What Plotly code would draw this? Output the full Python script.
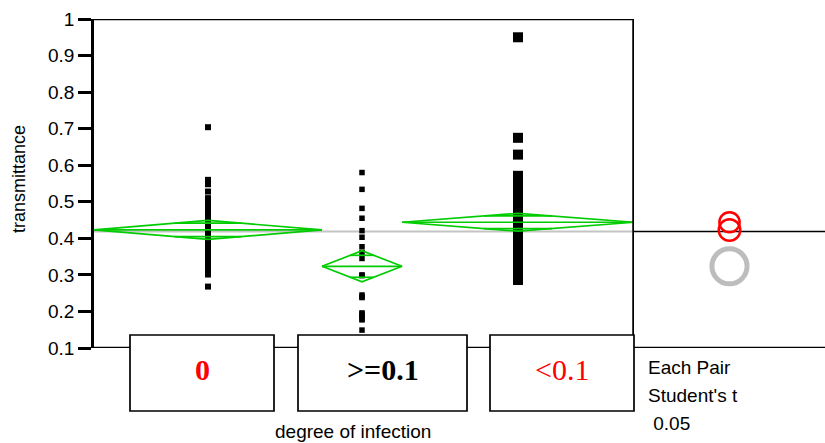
import math
import plotly.graph_objects as go

# ---- data -------------------------------------------------------------
categories = ["0", ">=0.1", "<0.1"]

transmittance_0 = [
    0.704, 0.560, 0.548, 0.528, 0.510, 0.495, 0.482, 0.470,
    0.460, 0.456, 0.452, 0.449, 0.446, 0.443, 0.440, 0.438, 0.436, 0.434,
    0.432, 0.430, 0.428, 0.426, 0.424, 0.422, 0.420, 0.418, 0.416, 0.414,
    0.412, 0.410, 0.408, 0.406, 0.404, 0.402, 0.400, 0.398, 0.396, 0.394,
    0.392, 0.390, 0.387, 0.384, 0.381, 0.378, 0.374, 0.370, 0.365, 0.360,
    0.354, 0.347, 0.340, 0.332, 0.324, 0.316, 0.308, 0.301, 0.268,
]
transmittance_ge01 = [
    0.580, 0.534, 0.482, 0.455, 0.421, 0.403, 0.377, 0.361, 0.345, 0.300,
    0.298, 0.245, 0.240, 0.238, 0.196, 0.193, 0.188, 0.180, 0.177, 0.149,
]
transmittance_lt01 = [
    0.950, 0.675, 0.629, 0.571, 0.560, 0.550, 0.540, 0.530, 0.520, 0.512,
    0.505, 0.498, 0.492, 0.486, 0.480, 0.475, 0.470, 0.466, 0.462, 0.458,
    0.454, 0.450, 0.447, 0.444, 0.441, 0.438, 0.435, 0.432, 0.429, 0.426,
    0.423, 0.420, 0.417, 0.414, 0.411, 0.408, 0.405, 0.401, 0.397, 0.393,
    0.389, 0.384, 0.379, 0.374, 0.368, 0.362, 0.355, 0.348, 0.341, 0.334,
    0.327, 0.320, 0.313, 0.306, 0.300, 0.295, 0.290, 0.286,
]
group_values = [transmittance_0, transmittance_ge01, transmittance_lt01]

# group means and 95% confidence half-widths (means diamonds)
group_means = [0.423, 0.3235, 0.444]
group_ci_half = [0.026, 0.0425, 0.0245]
grand_mean = 0.419

y_tick_vals = [0.1, 0.2, 0.3, 0.4, 0.5, 0.6, 0.7, 0.8, 0.9, 1.0]
y_tick_text = ["0.1", "0.2", "0.3", "0.4", "0.5", "0.6", "0.7", "0.8", "0.9", "1"]
test_lines = ["Each Pair", "Student's t", " 0.05"]

# ---- styles -----------------------------------------------------------
W, H = 825, 443
L, T = 94, 19
PB = 348            # bottom of plotting area (px)
MAIN_R = 634        # right edge of main frame (px)
PW, PH = W - L, PB - T
Y0, Y1 = 0.1, 1.0
PX_PER_UNIT = PH / (Y1 - Y0)

GREEN = "#00cc00"
marker_sizes = [6, 5.5, 10]
label_colors = ["#ff0000", "#000000", "#ff0000"]
label_bold = [True, True, False]
circle_colors = ["#ff0000", "#bdbdbd", "#ff0000"]
circle_widths = [2.5, 5, 2.5]
box_px = [(130, 274), (298, 467), (490, 634)]
BOX_TOP, BOX_BOT = 335, 411
SANS = "Liberation Sans, Arial, sans-serif"
SERIF = "Liberation Serif, Times New Roman, serif"


def px_x(px):
    return (px - L) / PW


def px_y(py):
    return (PB - py) / PH


counts = [len(v) for v in group_values]
n_total = sum(counts)
starts = [sum(counts[:i]) for i in range(len(counts))]
centers = [s + n / 2 for s, n in zip(starts, counts)]

fig = go.Figure()

# grand mean reference line
fig.add_trace(go.Scatter(x=[0, n_total], y=[grand_mean, grand_mean], mode="lines",
                         line=dict(color="#c4c4c4", width=2), hoverinfo="skip",
                         showlegend=False))

# raw observations
for i, vals in enumerate(group_values):
    fig.add_trace(go.Scatter(
        x=[centers[i]] * len(vals), y=vals, mode="markers",
        marker=dict(symbol="square", size=marker_sizes[i], color="black",
                    line=dict(width=0)),
        name=categories[i], showlegend=False))

# means diamonds with overlap marks
k = 1 - 1 / math.sqrt(2)
for i in range(len(categories)):
    lft, rgt, c = starts[i], starts[i] + counts[i], centers[i]
    m, h = group_means[i], group_ci_half[i]
    fig.add_trace(go.Scatter(x=[lft, c, rgt, c, lft], y=[m, m + h, m, m - h, m],
                             mode="lines", line=dict(color=GREEN, width=1.7),
                             hoverinfo="skip", showlegend=False))
    fig.add_trace(go.Scatter(x=[lft, rgt], y=[m, m], mode="lines",
                             line=dict(color=GREEN, width=1.7),
                             hoverinfo="skip", showlegend=False))
    d = k * counts[i] / 2
    for sgn in (1, -1):
        om = m + sgn * h / math.sqrt(2)
        fig.add_trace(go.Scatter(x=[c - d, c + d], y=[om, om], mode="lines",
                                 line=dict(color=GREEN, width=1.7),
                                 hoverinfo="skip", showlegend=False))

# comparison-circle panel reference line
fig.add_trace(go.Scatter(x=[0, 1], y=[grand_mean, grand_mean], xaxis="x2",
                         mode="lines", line=dict(color="black", width=1.5),
                         hoverinfo="skip", showlegend=False))

shapes = []
# frame lines
shapes.append(dict(type="line", xref="x", yref="y", x0=0, x1=n_total, y0=Y1, y1=Y1,
                   line=dict(color="black", width=2.5)))
shapes.append(dict(type="line", xref="paper", yref="y", x0=0, x1=1, y0=Y0, y1=Y0,
                   line=dict(color="black", width=2.5)))
shapes.append(dict(type="line", xref="x", yref="y", x0=n_total, x1=n_total,
                   y0=Y0, y1=Y1, line=dict(color="black", width=3.5)))
# category label boxes
for (bx0, bx1) in box_px:
    shapes.append(dict(type="rect", xref="paper", yref="paper",
                       x0=px_x(bx0), x1=px_x(bx1), y0=px_y(BOX_BOT), y1=px_y(BOX_TOP),
                       fillcolor="white", line=dict(color="black", width=1.7)))
# comparison circles (grey first, red on top)
order = sorted(range(len(categories)), key=lambda j: circle_colors[j] != "#bdbdbd")
for j in order:
    r = group_ci_half[j] * PX_PER_UNIT * 1.13
    shapes.append(dict(type="circle", xref="x2", yref="y",
                       xsizemode="pixel", ysizemode="pixel",
                       xanchor=0.5, yanchor=group_means[j],
                       x0=-r, x1=r, y0=-r, y1=r,
                       line=dict(color=circle_colors[j], width=circle_widths[j])))

annotations = []
for i, name in enumerate(categories):
    txt = name.replace("<", "&lt;").replace(">", "&gt;")
    if label_bold[i]:
        txt = "<b>" + txt + "</b>"
    bx0, bx1 = box_px[i]
    annotations.append(dict(x=px_x((bx0 + bx1) / 2), y=px_y(369), xref="paper",
                            yref="paper", text=txt, showarrow=False,
                            xanchor="center", yanchor="middle",
                            font=dict(family=SERIF, size=30, color=label_colors[i])))

annotations.append(dict(x=px_x(19), y=px_y(179), xref="paper", yref="paper",
                        text="transmittance", textangle=-90, showarrow=False,
                        xanchor="center", yanchor="middle",
                        font=dict(family=SANS, size=18, color="black")))
annotations.append(dict(x=px_x(353), y=px_y(431), xref="paper", yref="paper",
                        text="degree of infection", showarrow=False,
                        xanchor="center", yanchor="middle",
                        font=dict(family=SANS, size=19, color="black")))
for li, line in enumerate(test_lines):
    annotations.append(dict(x=px_x(646), y=px_y(367 + 28 * li), xref="paper",
                            yref="paper", text=line.replace(" ", "&nbsp;"),
                            showarrow=False, xanchor="left", yanchor="middle",
                            font=dict(family=SANS, size=19, color="black")))

split = (MAIN_R - L) / PW
fig.update_layout(
    width=W, height=H,
    margin=dict(l=L, r=0, t=T, b=H - PB, pad=0),
    paper_bgcolor="white", plot_bgcolor="white",
    xaxis=dict(domain=[0, split], range=[0, n_total], visible=False),
    xaxis2=dict(domain=[split, 1], range=[0, 1], visible=False, anchor="y"),
    yaxis=dict(range=[Y0, Y1], tickvals=y_tick_vals, ticktext=y_tick_text,
               ticks="outside", ticklen=13, tickwidth=2.5, tickcolor="black",
               showline=True, linewidth=2.5, linecolor="black", showgrid=False,
               zeroline=False, tickfont=dict(family=SANS, size=19, color="black")),
    shapes=shapes, annotations=annotations, showlegend=False,
)

fig.write_html("out.html")
